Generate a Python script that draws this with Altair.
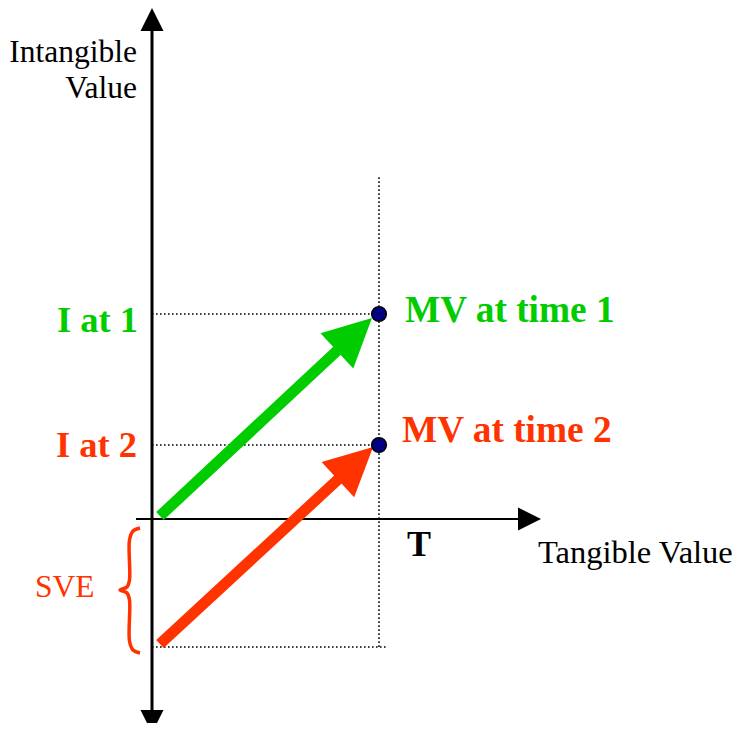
import math
import altair as alt
import pandas as pd

# ---- conceptual values (diagram units) ----
T_VALUE = 10.0            # tangible value of both market values
I_AT_1 = 9.03             # intangible value at time 1
I_AT_2 = 3.26             # intangible value at time 2
SVE = -5.64               # bottom of the SVE brace
DOT_TOP = 15.05           # top of the dotted guide above T
DOT_RIGHT = 10.4          # right end of the bottom dotted guide

GREEN = "#00cc00"
RED = "#ff3300"

# arrows: start -> tip
arrow_names = ["time1", "time2"]
arrow_x0 = [0.35, 0.35]
arrow_y0 = [0.13, -5.51]
arrow_x1 = [9.69, 9.74]
arrow_y1 = [8.85, 3.17]
arrow_colors = [GREEN, RED]

# ---- layout ----
PX = 22.7                 # pixels per unit
W, H = 724, 715
OX, OY = 152 - 8, 519 - 8  # origin in plot pixels
xmin = -OX / PX
xmax = xmin + W / PX
ymax = OY / PX
ymin = ymax - H / PX

X = alt.Scale(domain=[xmin, xmax], nice=False, zero=False)
Y = alt.Scale(domain=[ymin, ymax], nice=False, zero=False)

def xe(f="x"):
    return alt.X(f"{f}:Q", scale=X, axis=None)

def ye(f="y"):
    return alt.Y(f"{f}:Q", scale=Y, axis=None)

# axes lines
vaxis = pd.DataFrame({"x": [0.0], "y": [(519 - 712) / PX], "x2": [0.0], "y2": [(519 - 28) / PX]})
haxis = pd.DataFrame({"x": [(136 - 152) / PX], "y": [0.0], "x2": [(520 - 152) / PX], "y2": [0.0]})

rule_v = alt.Chart(vaxis).mark_rule(color="black", strokeWidth=3).encode(
    x=xe(), y=ye(), x2="x2:Q", y2="y2:Q")
rule_h = alt.Chart(haxis).mark_rule(color="black", strokeWidth=2).encode(
    x=xe(), y=ye(), x2="x2:Q", y2="y2:Q")

# dotted guides
guides = pd.DataFrame({
    "x": [0.0, 0.0, T_VALUE, 0.0],
    "y": [I_AT_1, I_AT_2, DOT_TOP, SVE],
    "x2": [T_VALUE, T_VALUE, T_VALUE, DOT_RIGHT],
    "y2": [I_AT_1, I_AT_2, SVE, SVE],
})
dotted = alt.Chart(guides).mark_rule(color="black", strokeWidth=1.5, strokeDash=[1.6, 2.4]).encode(
    x=xe(), y=ye(), x2="x2:Q", y2="y2:Q")

# colored arrow shafts and heads
HEAD_LEN = 46 / PX
rows_shaft, rows_head = [], []
for n, x0, y0, x1, y1, c in zip(arrow_names, arrow_x0, arrow_y0, arrow_x1, arrow_y1, arrow_colors):
    dx, dy = x1 - x0, y1 - y0
    L = math.hypot(dx, dy)
    ux, uy = dx / L, dy / L
    back = HEAD_LEN * 0.8
    rows_shaft.append({"x": x0, "y": y0, "x2": x1 - ux * back, "y2": y1 - uy * back, "c": c})
    ang = 90 - math.degrees(math.atan2(dy, dx))
    rows_head.append({"x": x1, "y": y1, "angle": ang, "size": 48 ** 2, "c": c})

# axis arrowheads (tips)
rows_head.append({"x": 0.0, "y": (519 - 8) / PX, "angle": 0.0, "size": 23 ** 2, "c": "black"})
rows_head.append({"x": 0.0, "y": (519 - 733) / PX, "angle": 180.0, "size": 23 ** 2, "c": "black"})
rows_head.append({"x": (541 - 152) / PX, "y": 0.0, "angle": 90.0, "size": 23 ** 2, "c": "black"})

shafts = alt.Chart(pd.DataFrame(rows_shaft)).mark_rule(strokeWidth=11, strokeCap="butt").encode(
    x=xe(), y=ye(), x2="x2:Q", y2="y2:Q", color=alt.Color("c:N", scale=None))

heads = alt.Chart(pd.DataFrame(rows_head)).mark_point(
    shape="M0,0 L1,2 L-1,2 Z", filled=True, opacity=1, strokeWidth=0).encode(
    x=xe(), y=ye(),
    angle=alt.Angle("angle:Q", scale=None),
    size=alt.Size("size:Q", scale=None),
    fill=alt.Fill("c:N", scale=None))

# market value points
pts = pd.DataFrame({"x": [T_VALUE, T_VALUE], "y": [I_AT_1, I_AT_2]})
dots = alt.Chart(pts).mark_point(
    shape="circle", filled=True, size=215, fill="#000080", stroke="black", strokeWidth=1.5, opacity=1
).encode(x=xe(), y=ye())

# brace for SVE (pixel-derived path)
brace_px = [(140, 528), (133, 531), (129.5, 540), (129.5, 580), (127, 587), (120, 590),
            (127, 593), (129.5, 600), (129.5, 641), (133, 650), (140, 653)]
brace = pd.DataFrame({
    "x": [(p[0] - 152) / PX for p in brace_px],
    "y": [(519 - p[1]) / PX for p in brace_px],
    "o": list(range(len(brace_px))),
})
brace_line = alt.Chart(brace).mark_line(color=RED, strokeWidth=3.5, interpolate="catmull-rom").encode(
    x=xe(), y=ye(), order="o:Q")

# texts
def txt(df, **kw):
    return alt.Chart(df).mark_text(font="Liberation Serif", **kw).encode(
        x=xe(), y=ye(), text="t:N")

t_y_title = txt(pd.DataFrame({"x": [(137 - 152) / PX] * 2, "y": [(519 - 62) / PX, (519 - 98) / PX],
                              "t": ["Intangible", "Value"]}),
                align="right", baseline="alphabetic", fontSize=31.5, color="black")
t_x_title = txt(pd.DataFrame({"x": [(538 - 152) / PX], "y": [(519 - 563) / PX], "t": ["Tangible Value"]}),
                align="left", baseline="alphabetic", fontSize=32.5, color="black")
t_T = txt(pd.DataFrame({"x": [(419 - 152) / PX], "y": [(519 - 556) / PX], "t": ["T"]}),
          align="center", baseline="alphabetic", fontSize=36, fontWeight="bold", color="black")
t_I1 = txt(pd.DataFrame({"x": [(138 - 152) / PX], "y": [(519 - 332) / PX], "t": ["I at 1"]}),
           align="right", baseline="alphabetic", fontSize=36.5, fontWeight="bold", color=GREEN)
t_I2 = txt(pd.DataFrame({"x": [(137 - 152) / PX], "y": [(519 - 457) / PX], "t": ["I at 2"]}),
           align="right", baseline="alphabetic", fontSize=36.5, fontWeight="bold", color=RED)
t_MV1 = txt(pd.DataFrame({"x": [(405 - 152) / PX], "y": [(519 - 322) / PX], "t": ["MV at time 1"]}),
            align="left", baseline="alphabetic", fontSize=37.3, fontWeight="bold", color=GREEN)
t_MV2 = txt(pd.DataFrame({"x": [(402 - 152) / PX], "y": [(519 - 442) / PX], "t": ["MV at time 2"]}),
            align="left", baseline="alphabetic", fontSize=37.3, fontWeight="bold", color=RED)
t_SVE = txt(pd.DataFrame({"x": [(35 - 152) / PX], "y": [(519 - 597) / PX], "t": ["SVE"]}),
            align="left", baseline="alphabetic", fontSize=31.5, color=RED)

chart = alt.layer(
    dotted, rule_v, rule_h, shafts, heads, dots, brace_line,
    t_y_title, t_x_title, t_T, t_I1, t_I2, t_MV1, t_MV2, t_SVE
).properties(
    width=W, height=H, padding=0, autosize=alt.AutoSizeParams(type="none")
).configure_view(stroke="white", strokeWidth=0, strokeOpacity=0)

chart.save("out.html", embed_options={"renderer": "svg", "actions": False})
